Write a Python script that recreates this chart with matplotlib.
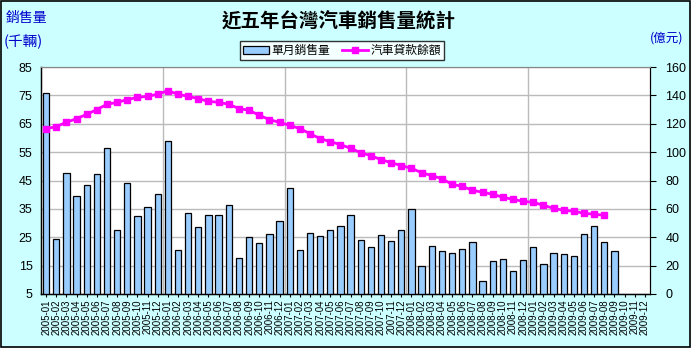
import matplotlib

matplotlib.use("Agg")
import matplotlib.pyplot as plt
import numpy as np
from matplotlib.patches import Rectangle

plt.rcParams["font.family"] = ["Noto Sans CJK TC", "DejaVu Sans"]

months = [f"{y}-{m:02d}" for y in range(2005, 2010) for m in range(1, 13)]

# monthly sales (thousand cars), 2005-01 .. 2009-09
sales = [
    75.8, 24.4, 47.6, 39.6, 43.4, 47.4, 56.4, 27.5, 44.1, 32.5, 35.8, 40.2,
    59.0, 20.5, 33.5, 28.6, 32.9, 32.9, 36.4, 17.7, 25.1, 23.0, 26.1, 30.7,
    42.3, 20.5, 26.5, 25.4, 27.5, 28.9, 32.8, 24.0, 21.5, 25.8, 23.7, 27.5,
    34.9, 14.8, 21.9, 20.1, 19.5, 20.8, 23.3, 9.7, 16.7, 17.3, 13.2, 17.1,
    21.5, 15.7, 19.5, 19.2, 18.5, 26.2, 29.1, 23.4, 20.3,
]

# car loan balance (100 million NTD), 2005-01 .. 2009-08
loans = [
    116.5, 118.0, 121.0, 123.6, 126.6, 130.0, 133.7, 135.1, 137.0, 138.6, 139.3, 140.8,
    143.3, 140.8, 139.3, 137.7, 135.8, 135.1, 133.7, 130.7, 129.5, 126.0, 122.9, 121.0,
    118.9, 116.6, 113.0, 109.5, 107.4, 105.3, 102.7, 99.6, 97.5, 94.7, 92.6, 90.5,
    88.6, 85.5, 83.4, 81.3, 77.3, 75.9, 73.1, 71.7, 70.3, 68.2, 66.7, 65.3,
    64.6, 62.5, 60.4, 59.0, 58.3, 56.9, 56.2, 55.5,
]

left_ticks = list(range(5, 86, 10))
right_ticks = list(range(0, 161, 20))

bg = "#CCFFFF"
fig = plt.figure(figsize=(6.91, 3.48), dpi=100, facecolor=bg)
fig.patches.append(Rectangle((0.001, 0.002), 0.997, 0.995, transform=fig.transFigure,
                             fill=False, edgecolor="black", linewidth=1.2))

W, H = 691, 348
ax = fig.add_axes([41 / W, (H - 294) / H, 609 / W, 227 / H])
ax.set_facecolor("white")

x = np.arange(len(sales))
ax.bar(x, np.array(sales) - 5, bottom=5, width=0.62, color="#99CCFF",
       edgecolor="black", linewidth=0.9, zorder=3)
ax.set_xlim(-0.5, len(months) - 0.5)
ax.set_ylim(5, 85)
ax.set_yticks(left_ticks)
ax.set_yticklabels([str(t) for t in left_ticks], fontsize=9, family="Liberation Sans")
ax.tick_params(axis="y", length=0, pad=6)
ax.set_xticks(np.arange(len(months)))
ax.set_xticklabels(months, rotation=90, fontsize=7, family="Liberation Sans")
ax.tick_params(axis="x", length=2, pad=2)
ax.grid(axis="y", color="#BBBBBB", linewidth=1, zorder=0)
for yb in range(1, 5):
    ax.axvline(yb * 12 - 0.5, color="#BBBBBB", linewidth=1, zorder=0)
ax.spines["top"].set_color("#888888")
ax.spines["left"].set_linewidth(1)
ax.spines["bottom"].set_linewidth(1)

ax2 = ax.twinx()
ax2.plot(np.arange(len(loans)), loans, color="#FF00FF", linewidth=2,
         marker="s", markersize=4.5, zorder=4)
ax2.set_ylim(0, 160)
ax2.set_yticks(right_ticks)
ax2.set_yticklabels([str(t) for t in right_ticks], fontsize=9, family="Liberation Sans")
ax2.tick_params(axis="y", length=4, pad=7)
ax2.spines["top"].set_color("#888888")

fig.text(339 / W, 1 - 22 / H, "近五年台灣汽車銷售量統計", ha="center", va="center",
         fontsize=14, fontweight="bold")
fig.text(6 / W, 1 - 18 / H, "銷售量", ha="left", va="center", fontsize=10, color="#0000CC")
fig.text(4 / W, 1 - 41 / H, "(千輛)", ha="left", va="center", fontsize=10.5, color="#0000CC")
fig.text(683 / W, 1 - 38 / H, "(億元)", ha="right", va="center", fontsize=9, color="#0000CC")

handles = [
    Rectangle((0, 0), 1, 1, facecolor="#99CCFF", edgecolor="black", linewidth=0.9),
    plt.Line2D([], [], color="#FF00FF", linewidth=2, marker="s", markersize=4.5),
]
leg = fig.legend(handles, ["單月銷售量", "汽車貸款餘額"], loc="center",
                 bbox_to_anchor=(342 / W, 1 - 50.5 / H), ncol=2, fontsize=8.5,
                 frameon=True, fancybox=False, edgecolor="black", handlelength=2.2,
                 handletextpad=0.2, columnspacing=1.0, borderpad=0.25)
leg.get_frame().set_linewidth(1)

fig.savefig("out.png", dpi=100, facecolor=bg)
